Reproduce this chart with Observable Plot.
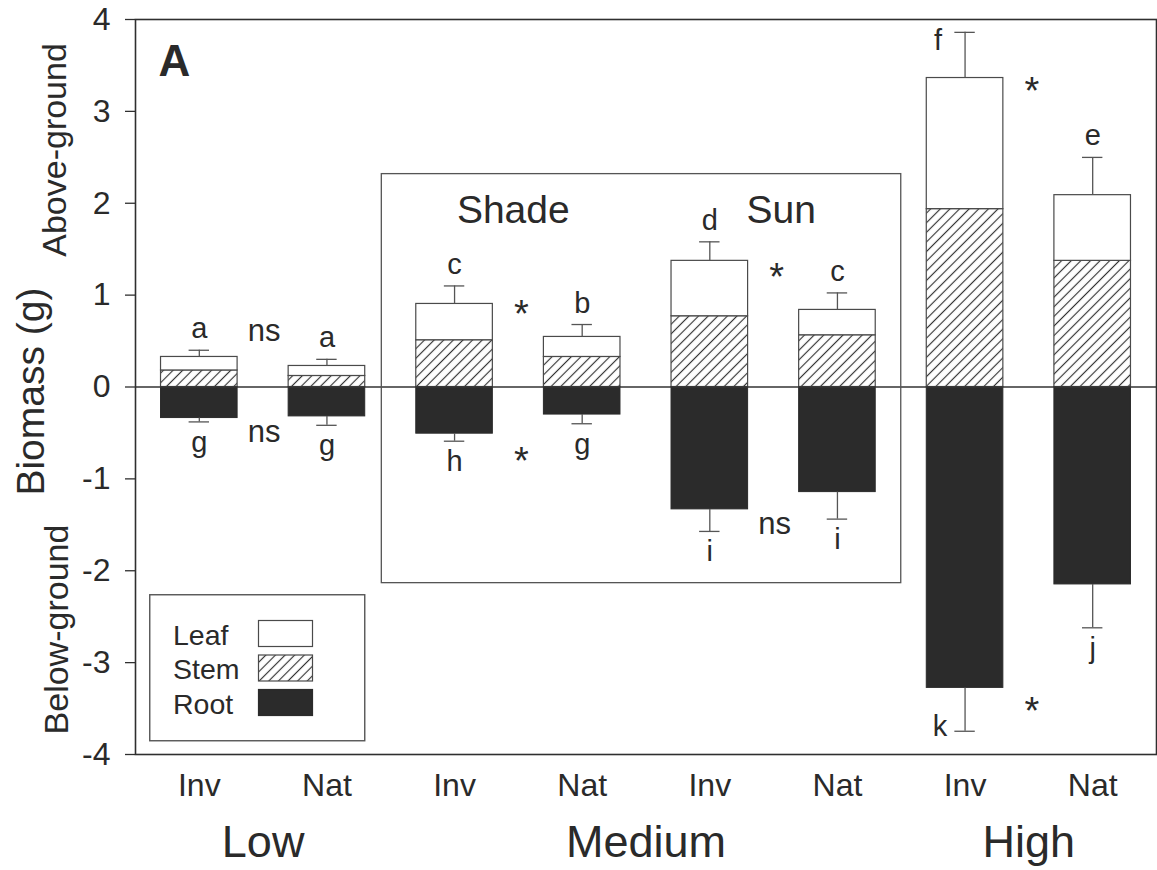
<!DOCTYPE html>
<html>
<head>
<meta charset="utf-8">
<script src="https://cdn.jsdelivr.net/npm/d3@7"></script>
<script src="https://cdn.jsdelivr.net/npm/@observablehq/plot@0.6"></script>
<style>
  html, body { margin: 0; padding: 0; background: #fff; overflow: hidden; }
  #wrap { position: relative; width: 1157px; height: 870px; font-family: "Liberation Sans", Arial, sans-serif; color: #2a2a2a; }
  #legend { position: absolute; left: 149px; top: 594px; }
</style>
</head>
<body>
<div id="wrap"></div>
<script>
// ---------- data ----------
const groups  = ["Low", "Low", "Medium", "Medium", "Medium", "Medium", "High", "High"];
const species = ["Inv", "Nat", "Inv", "Nat", "Inv", "Nat", "Inv", "Nat"];
const leaf    = [0.147, 0.109, 0.395, 0.218, 0.603, 0.276, 1.427, 0.715];
const stem    = [0.180, 0.120, 0.509, 0.327, 0.770, 0.563, 1.936, 1.373];
const root    = [-0.338, -0.320, -0.508, -0.300, -1.332, -1.144, -3.275, -2.149];
const aboveSE = [0.073, 0.072, 0.196, 0.135, 0.207, 0.185, 0.497, 0.411];
const belowSE = [0.042, 0.097, 0.082, 0.100, 0.240, 0.294, 0.472, 0.472];
const aboveLetters = ["a", "a", "c", "b", "d", "c", "f", "e"];
const belowLetters = ["g", "g", "h", "g", "i", "i", "k", "j"];
const lightNames = ["Shade", "Sun"];
const lightX     = [2.96, 5.06];
const sigAbove   = ["ns", "*", "*", "*"];
const sigAboveY  = [0.50, 0.694, 1.10, 3.125];
const sigBelow   = ["ns", "*", "ns", "*"];
const sigBelowY  = [-0.60, -0.90, -1.605, -3.62];
const levelNames = ["Low", "Medium", "High"];
const yTicks = [-4, -3, -2, -1, 0, 1, 2, 3, 4];
const legendNames = ["Leaf", "Stem", "Root"];
const mediumBoxY = [-2.135, 2.317];
const lightLabelY = 1.78;

// ---------- derived tables ----------
const bars = species.map((s, i) => ({
  i, x: i + 0.5, group: groups[i], species: s,
  stem: stem[i], total: stem[i] + leaf[i], root: root[i],
  upTip: stem[i] + leaf[i] + aboveSE[i], downTip: root[i] - belowSE[i],
  aL: aboveLetters[i], bL: belowLetters[i]
}));
const sigs = [];
sigAbove.forEach((s, k) => {
  sigs.push({x: 2 * k + 1, t: s, y: sigAboveY[k]});
  sigs.push({x: 2 * k + 1, t: sigBelow[k], y: sigBelowY[k]});
});
const lights = lightNames.map((l, k) => ({x: lightX[k], light: l}));
const levels = levelNames.map(name => {
  const idx = bars.filter(d => d.group === name).map(d => d.x);
  return {name, x: d3.mean(idx), lo: d3.min(idx) - 0.5, hi: d3.max(idx) + 0.5};
});
const medium = levels.find(l => l.name === "Medium");
const boxes = [{x1: medium.lo - 0.07, x2: medium.hi, y1: mediumBoxY[0], y2: mediumBoxY[1]}];
const bigLabels = [
  {t: "Biomass (g)", y: -0.05, dx: -92, fs: 39},
  {t: "Above-ground", y: 2.58, dx: -70, fs: 34},
  {t: "Below-ground", y: -2.64, dx: -68, fs: 34}
];

const ink = "#2a2a2a";
const outline = "#4a4a4a";

const chart = Plot.plot({
  width: 1157, height: 870,
  marginLeft: 135, marginRight: 1, marginTop: 19, marginBottom: 116,
  x: {type: "linear", domain: [0, 8]},
  y: {domain: [-4, 4]},
  style: {fontFamily: "'Liberation Sans', Arial, sans-serif", color: ink, background: "white", overflow: "visible"},
  marks: [
    // bars
    Plot.rect(bars, {x1: d => d.i + 0.2, x2: d => d.i + 0.8, y1: 0, y2: "root", fill: "#2b2b2b", stroke: "#2b2b2b", strokeWidth: 1}),
    Plot.rect(bars, {x1: d => d.i + 0.2, x2: d => d.i + 0.8, y1: 0, y2: "stem", fill: "url(#hatch)", stroke: outline, strokeWidth: 1.2}),
    Plot.rect(bars, {x1: d => d.i + 0.2, x2: d => d.i + 0.8, y1: "stem", y2: "total", fill: "white", stroke: outline, strokeWidth: 1.2}),
    // error bars
    Plot.ruleX(bars, {x: "x", y1: "total", y2: "upTip", stroke: "#555", strokeWidth: 1.3}),
    Plot.ruleY(bars, {y: "upTip", x1: d => d.x - 0.08, x2: d => d.x + 0.08, stroke: "#555", strokeWidth: 1.3}),
    Plot.ruleX(bars, {x: "x", y1: "root", y2: "downTip", stroke: "#555", strokeWidth: 1.3}),
    Plot.ruleY(bars, {y: "downTip", x1: d => d.x - 0.08, x2: d => d.x + 0.08, stroke: "#555", strokeWidth: 1.3}),
    // zero line
    Plot.ruleY([0], {stroke: "#333", strokeWidth: 1.3}),
    // medium box
    Plot.rect(boxes, {x1: "x1", x2: "x2", y1: "y1", y2: "y2", fill: "none", stroke: "#555", strokeWidth: 1.3}),
    // frame and axes
    Plot.frame({stroke: "#2f2f2f", strokeWidth: 1.6}),
    Plot.axisY(yTicks, {tickSize: 10, tickPadding: 15, fontSize: 32, tickFormat: d => d < 0 ? "-" + Math.abs(d) : String(d), label: null, stroke: "#2f2f2f", strokeWidth: 1.3}),
    Plot.axisX(bars.map(d => d.x), {tickSize: 0, tickPadding: 19, fontSize: 32, tickFormat: d => species[Math.floor(d)], label: null}),
    // letters above / below
    Plot.text(bars.filter(d => d.upTip < 3.6), {x: "x", y: "upTip", text: "aL", dy: -12, lineAnchor: "bottom", fontSize: 29, fill: ink}),
    Plot.text(bars.filter(d => d.upTip >= 3.6), {x: "x", y: "upTip", text: "aL", dx: -27, dy: 18, lineAnchor: "bottom", fontSize: 29, fill: ink}),
    Plot.text(bars.filter(d => d.downTip > -3.6), {x: "x", y: "downTip", text: "bL", dy: 30, lineAnchor: "bottom", fontSize: 29, fill: ink}),
    Plot.text(bars.filter(d => d.downTip <= -3.6), {x: "x", y: "downTip", text: "bL", dx: -25, dy: 5, lineAnchor: "bottom", fontSize: 29, fill: ink}),
    // significance marks
    Plot.text(sigs.filter(s => s.t === "ns"), {x: "x", y: "y", text: "t", dx: 1, lineAnchor: "bottom", fontSize: 31, fill: ink}),
    Plot.text(sigs.filter(s => s.t === "*"), {x: "x", y: "y", text: "t", dx: 3, dy: 4, lineAnchor: "bottom", fontSize: 38, fill: ink}),
    // light labels
    Plot.text(lights, {x: "x", y: lightLabelY, text: "light", lineAnchor: "bottom", fontSize: 39, fill: ink}),
    // level labels
    Plot.text(levels, {x: "x", text: "name", frameAnchor: "bottom", dy: 102, lineAnchor: "bottom", fontSize: 45, fill: ink}),
    // panel letter
    Plot.text(["A"], {frameAnchor: "top-left", dx: 23, dy: 56, lineAnchor: "bottom", textAnchor: "start", fontSize: 44, fontWeight: "bold", fill: ink}),
    // y-axis titles
    ...bigLabels.map(l => Plot.text([l], {y: "y", text: "t", frameAnchor: "left", dx: l.dx, rotate: -90, textAnchor: "middle", lineAnchor: "bottom", fontSize: l.fs, fill: ink}))
  ]
});

// hatch pattern
const svgNS = "http://www.w3.org/2000/svg";
const defs = document.createElementNS(svgNS, "defs");
defs.innerHTML = `<pattern id="hatch" patternUnits="userSpaceOnUse" width="6.8" height="6.8" patternTransform="rotate(45)">
  <rect width="6.8" height="6.8" fill="#fff"/>
  <line x1="3.4" y1="0" x2="3.4" y2="6.8" stroke="#333" stroke-width="1.15"/>
</pattern>`;
chart.insertBefore(defs, chart.firstChild);

const wrap = document.getElementById("wrap");
wrap.appendChild(chart);

// legend (HTML overlay with an inline svg)
const fills = {Leaf: "#fff", Stem: "url(#hatch2)", Root: "#2b2b2b"};
const lg = document.createElementNS(svgNS, "svg");
lg.setAttribute("id", "legend");
lg.setAttribute("width", 217);
lg.setAttribute("height", 148);
let inner = `<defs><pattern id="hatch2" patternUnits="userSpaceOnUse" width="6.8" height="6.8" patternTransform="rotate(45)">
  <rect width="6.8" height="6.8" fill="#fff"/>
  <line x1="3.4" y1="0" x2="3.4" y2="6.8" stroke="#333" stroke-width="1.15"/></pattern></defs>
  <rect x="0.75" y="0.75" width="215" height="146" fill="white" stroke="#555" stroke-width="1.4"/>`;
legendNames.forEach((n, k) => {
  const top = 26.5 + k * 34.5;
  inner += `<rect x="109.5" y="${top}" width="54" height="26" fill="${fills[n]}" stroke="${n === "Root" ? "#2b2b2b" : "#4a4a4a"}" stroke-width="1.2"/>`;
  inner += `<text x="24" y="${top + 24}" font-size="28.5" fill="${ink}" font-family="'Liberation Sans', Arial, sans-serif">${n}</text>`;
});
lg.innerHTML = inner;
wrap.appendChild(lg);
</script>
</body>
</html>
